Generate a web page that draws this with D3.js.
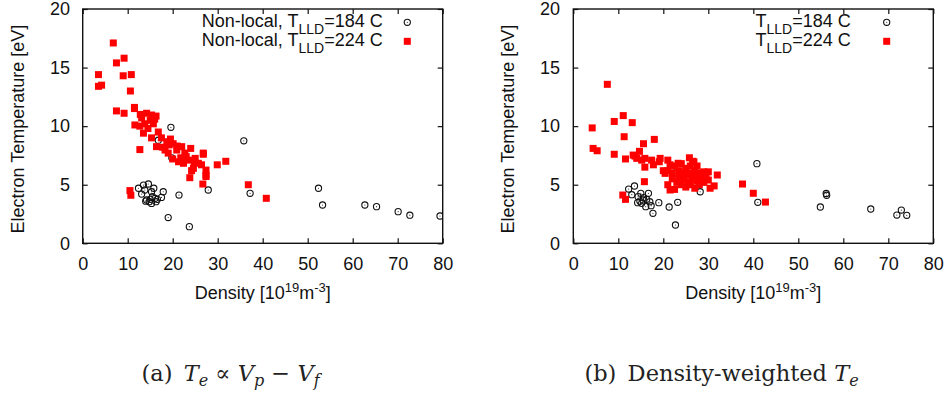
<!DOCTYPE html>
<html>
<head>
<meta charset="utf-8">
<script src="https://cdn.jsdelivr.net/npm/d3@7"></script>
<style>
  html, body { margin: 0; padding: 0; background: #fff; }
  svg { display: block; }
</style>
</head>
<body>
<svg id="chart" width="951" height="394"></svg>
<script>
// ---------------- DATA ----------------
const xTicks = [0, 10, 20, 30, 40, 50, 60, 70, 80];
const yTicks = [0, 5, 10, 15, 20];
const seriesLabelsA = ["Non-local, ", "Non-local, "];
const seriesLabelsB = ["", ""];
const seriesTemps = ["=184 C", "=224 C"];

// panel (a) : T_LLD = 184 C  (open circles)
const aLow = [
  [19.6,9.9],[35.8,8.75],[27.9,4.55],[37.2,4.27],[21.4,4.12],[19.0,2.2],[23.7,1.42],[17.9,4.4],
  [12.4,4.7],[13.5,4.97],[14.6,5.06],[13.1,4.2],[13.8,4.55],[15.8,4.7],[15.3,4.4],[14.2,3.7],
  [15.3,3.4],[16.1,3.84],[15.5,3.98],[16.6,3.75],[17.5,3.92],[15.0,3.75],[14.0,3.6],[14.8,3.55],
  [16.3,3.55],[52.4,4.7],[53.3,3.27],[62.7,3.27],[65.3,3.13],[70.1,2.7],[72.7,2.4],[79.4,2.33],
  [19.8,7.3],[16.8,8.8]
];
// panel (a) : T_LLD = 224 C  (red squares)
const aHigh = [
  [6.8,17.1],[9.2,15.8],[7.5,15.4],[3.5,14.4],[9.0,14.3],[10.8,14.4],[3.5,13.4],[4.2,13.5],
  [10.6,13.0],[7.5,11.3],[9.2,11.1],[11.5,11.5],[12.7,8.0],[10.5,4.5],[10.7,4.1],[36.8,5.0],
  [40.8,3.84],[29.9,6.7],[31.8,7.0],[23.8,5.6],[26.7,5.06],[27.4,5.7],[26.8,7.6],
  [11.5,11.6],[12.8,11.0],[14.2,11.1],[15.3,10.95],[16.3,10.86],[13.1,10.7],[15.0,10.5],
  [11.6,10.1],[12.7,10.0],[13.8,10.2],[15.7,10.2],[13.5,9.4],[15.3,9.0],[16.8,9.5],[17.5,9.0],
  [16.4,8.25],[18.7,8.67],[18.3,7.96],[19.0,7.7],[20.1,8.5],[20.9,7.96],[22.0,8.25],[22.7,7.7],
  [24.0,8.1],[21.3,6.96],[22.4,6.83],[23.5,7.1],[25.0,7.25],[25.7,6.83],[24.6,6.4],[26.4,6.7],
  [27.4,6.25],[27.4,5.83],[26.8,7.7],[24.2,6.2],[19.5,8.9],[21.0,8.3],[20.0,7.2],[23.0,7.4],
  [14.5,9.8],[17.8,8.2],[21.8,7.3],[24.8,6.9],[16.0,10.6],[19.2,8.4]
];
// panel (b) : T_LLD = 184 C  (open circles)
const bLow = [
  [12.3,4.63],[13.6,4.89],[13.0,4.15],[15.0,4.27],[16.7,4.27],[14.4,3.98],[15.6,3.9],[16.3,3.75],
  [17.0,3.55],[14.3,3.47],[15.2,3.41],[16.1,3.13],[17.3,3.21],[19.0,3.47],[21.3,3.1],[23.2,3.5],
  [17.7,2.56],[22.7,1.56],[28.2,4.4],[22.6,6.0],[40.8,6.8],[41.0,3.5],[56.2,4.25],[56.3,4.1],
  [54.9,3.1],[66.1,2.93],[71.9,2.41],[72.9,2.84],[74.1,2.39],[15.5,3.7],[14.8,3.6]
];
// panel (b) : T_LLD = 224 C  (red squares)
const bHigh = [
  [7.56,13.57],[9.1,10.4],[11.1,10.9],[13.1,10.3],[4.2,9.85],[11.3,9.1],[18.0,8.87],[15.6,8.5],
  [4.4,8.1],[5.3,7.9],[9.1,7.6],[11.6,7.2],[14.7,7.85],[13.3,7.53],[13.7,7.45],[14.1,7.25],
  [15.2,7.1],[15.9,6.5],[15.9,7.25],[17.4,7.1],[17.8,6.7],[19.3,7.25],[19.1,6.96],[20.4,5.97],
  [21.5,6.7],[23.3,6.83],[26.8,6.96],[30.0,6.1],[30.4,4.7],[21.5,4.55],[15.8,5.26],[11.0,4.12],
  [11.6,3.75],[32.0,5.83],[37.6,5.06],[40.0,4.27],[42.7,3.52],
  [20.0,6.2],[21.0,7.1],[21.0,6.2],[22.0,6.0],[22.0,5.5],[22.5,6.6],[23.0,5.2],[23.5,6.2],
  [23.5,5.7],[24.0,6.8],[24.0,5.0],[24.5,6.0],[24.5,5.5],[25.0,6.4],[25.0,4.8],[25.5,5.8],
  [25.5,5.2],[26.0,6.6],[26.0,6.0],[26.0,5.0],[26.5,7.0],[26.5,5.5],[27.0,6.2],[27.0,5.8],
  [27.0,4.7],[27.5,6.6],[27.5,5.3],[28.0,6.0],[28.0,5.0],[28.5,5.6],[29.0,6.1],[29.0,5.2],
  [29.5,5.8],[30.0,5.4],[22.5,4.6],[21.0,5.0],[25.8,7.3],[31.3,4.9]
];

// ---------------- LAYOUT ----------------
const svg = d3.select("#chart");
const FONT = "'Liberation Sans', Arial, Helvetica, sans-serif";
const SERIF = "'DejaVu Serif', 'Liberation Serif', serif";
const yTop = 9, yBot = 243.3;

const panels = [
  { x0: 82.7, x1: 442.7, low: aLow, high: aHigh, prefix: seriesLabelsA, legX: 382.7, symX: 407.3,
    yLabX: 18, yTickX: 70, caption: "a" },
  { x0: 573.3, x1: 933.3, low: bLow, high: bHigh, prefix: seriesLabelsB, legX: 850.7, symX: 886.7,
    yLabX: 508, yTickX: 560, caption: "b" }
];

panels.forEach(p => {
  const x = d3.scaleLinear().domain([0, 80]).range([p.x0, p.x1]);
  const y = d3.scaleLinear().domain([0, 20]).range([yBot, yTop]);
  const g = svg.append("g");

  const gb = g.append("g").attr("transform", `translate(0,${yBot})`)
    .call(d3.axisBottom(x).tickValues(xTicks).tickSize(-5).tickPadding(14).tickFormat(d3.format("d")));
  const gl = g.append("g").attr("transform", `translate(${p.x0},0)`)
    .call(d3.axisLeft(y).tickValues(yTicks).tickSize(-5).tickPadding(p.x0 - p.yTickX).tickFormat(d3.format("d")));
  const gt = g.append("g").attr("transform", `translate(0,${yTop})`)
    .call(d3.axisTop(x).tickValues(xTicks).tickSize(-5).tickFormat(""));
  const gr = g.append("g").attr("transform", `translate(${p.x1},0)`)
    .call(d3.axisRight(y).tickValues(yTicks).tickSize(-5).tickFormat(""));
  [gb, gl, gt, gr].forEach(a => {
    a.select(".domain").remove();
    a.selectAll(".tick line").attr("stroke", "#111").attr("stroke-width", 1.2);
    a.selectAll("text").attr("font-family", FONT).attr("font-size", 18).attr("fill", "#111");
  });

  g.append("rect").attr("x", p.x0).attr("y", yTop)
    .attr("width", p.x1 - p.x0).attr("height", yBot - yTop)
    .attr("fill", "none").attr("stroke", "#111").attr("stroke-width", 1.4);

  const xl = g.append("text").attr("x", (p.x0 + p.x1) / 2).attr("y", 299)
    .attr("text-anchor", "middle").attr("font-family", FONT).attr("font-size", 18).attr("fill", "#111");
  xl.append("tspan").text("Density [10");
  xl.append("tspan").attr("dy", -7).attr("font-size", 13).text("19");
  xl.append("tspan").attr("dy", 7).text("m");
  xl.append("tspan").attr("dy", -7).attr("font-size", 13).text("-3");
  xl.append("tspan").attr("dy", 7).text("]");

  g.append("text")
    .attr("transform", `translate(${p.yLabX},${(yTop + yBot) / 2 + 3}) rotate(-90)`)
    .attr("text-anchor", "middle").attr("font-family", FONT).attr("font-size", 18).attr("fill", "#111")
    .attr("dy", "0.35em")
    .text("Electron Temperature [eV]");

  const cid = "clip" + p.caption;
  svg.append("clipPath").attr("id", cid).append("rect")
    .attr("x", p.x0).attr("y", yTop).attr("width", p.x1 - p.x0).attr("height", yBot - yTop);
  const marks = g.append("g").attr("clip-path", `url(#${cid})`);

  const cg = marks.append("g");
  cg.selectAll("circle.o").data(p.low).join("circle").attr("class", "o")
    .attr("cx", d => x(d[0])).attr("cy", d => y(d[1])).attr("r", 3.1)
    .attr("fill", "none").attr("stroke", "#111").attr("stroke-width", 1.1);
  cg.selectAll("circle.dot").data(p.low).join("circle").attr("class", "dot")
    .attr("cx", d => x(d[0])).attr("cy", d => y(d[1])).attr("r", 0.6).attr("fill", "#333");

  const s = 7;
  marks.append("g").selectAll("rect").data(p.high).join("rect")
    .attr("x", d => x(d[0]) - s / 2).attr("y", d => y(d[1]) - s / 2)
    .attr("width", s).attr("height", s).attr("fill", "#ff0000");

  const rows = [22.3, 41.3];
  rows.forEach((ry, i) => {
    const t = g.append("text").attr("x", p.legX).attr("y", ry + 4.7)
      .attr("text-anchor", "end").attr("font-family", FONT).attr("font-size", 18).attr("fill", "#111");
    t.append("tspan").text(p.prefix[i] + "T");
    t.append("tspan").attr("dy", 6.5).attr("font-size", 14).text("LLD");
    t.append("tspan").attr("dy", -6.5).text(seriesTemps[i]);
  });
  g.append("circle").attr("cx", p.symX).attr("cy", rows[0]).attr("r", 3.1)
    .attr("fill", "none").attr("stroke", "#111").attr("stroke-width", 1.1);
  g.append("circle").attr("cx", p.symX).attr("cy", rows[0]).attr("r", 0.6).attr("fill", "#333");
  g.append("rect").attr("x", p.symX - s / 2).attr("y", rows[1] - s / 2)
    .attr("width", s).attr("height", s).attr("fill", "#ff0000");
});

function cap(cx, parts) {
  const t = svg.append("text").attr("x", cx).attr("y", 381)
    .attr("text-anchor", "middle").attr("font-family", SERIF).attr("font-size", 22.5)
    .attr("font-weight", 300).attr("fill", "#222");
  parts.forEach(pt => {
    const ts = t.append("tspan").text(pt.t);
    if (pt.i) ts.attr("font-style", "italic");
    if (pt.sub) ts.attr("dy", 5).attr("font-size", 16);
    if (pt.up) ts.attr("dy", -5);
  });
}
cap(230.5, [
  { t: "(a)\u2002" }, { t: "T", i: 1 }, { t: "e", i: 1, sub: 1 }, { t: " \u221D ", up: 1 },
  { t: "V", i: 1 }, { t: "p", i: 1, sub: 1 }, { t: " \u2212 ", up: 1 }, { t: "V", i: 1 }, { t: "f", i: 1, sub: 1 }
]);
cap(721.5, [
  { t: "(b)\u2002Density-weighted " }, { t: "T", i: 1 }, { t: "e", i: 1, sub: 1 }
]);
</script>
</body>
</html>
